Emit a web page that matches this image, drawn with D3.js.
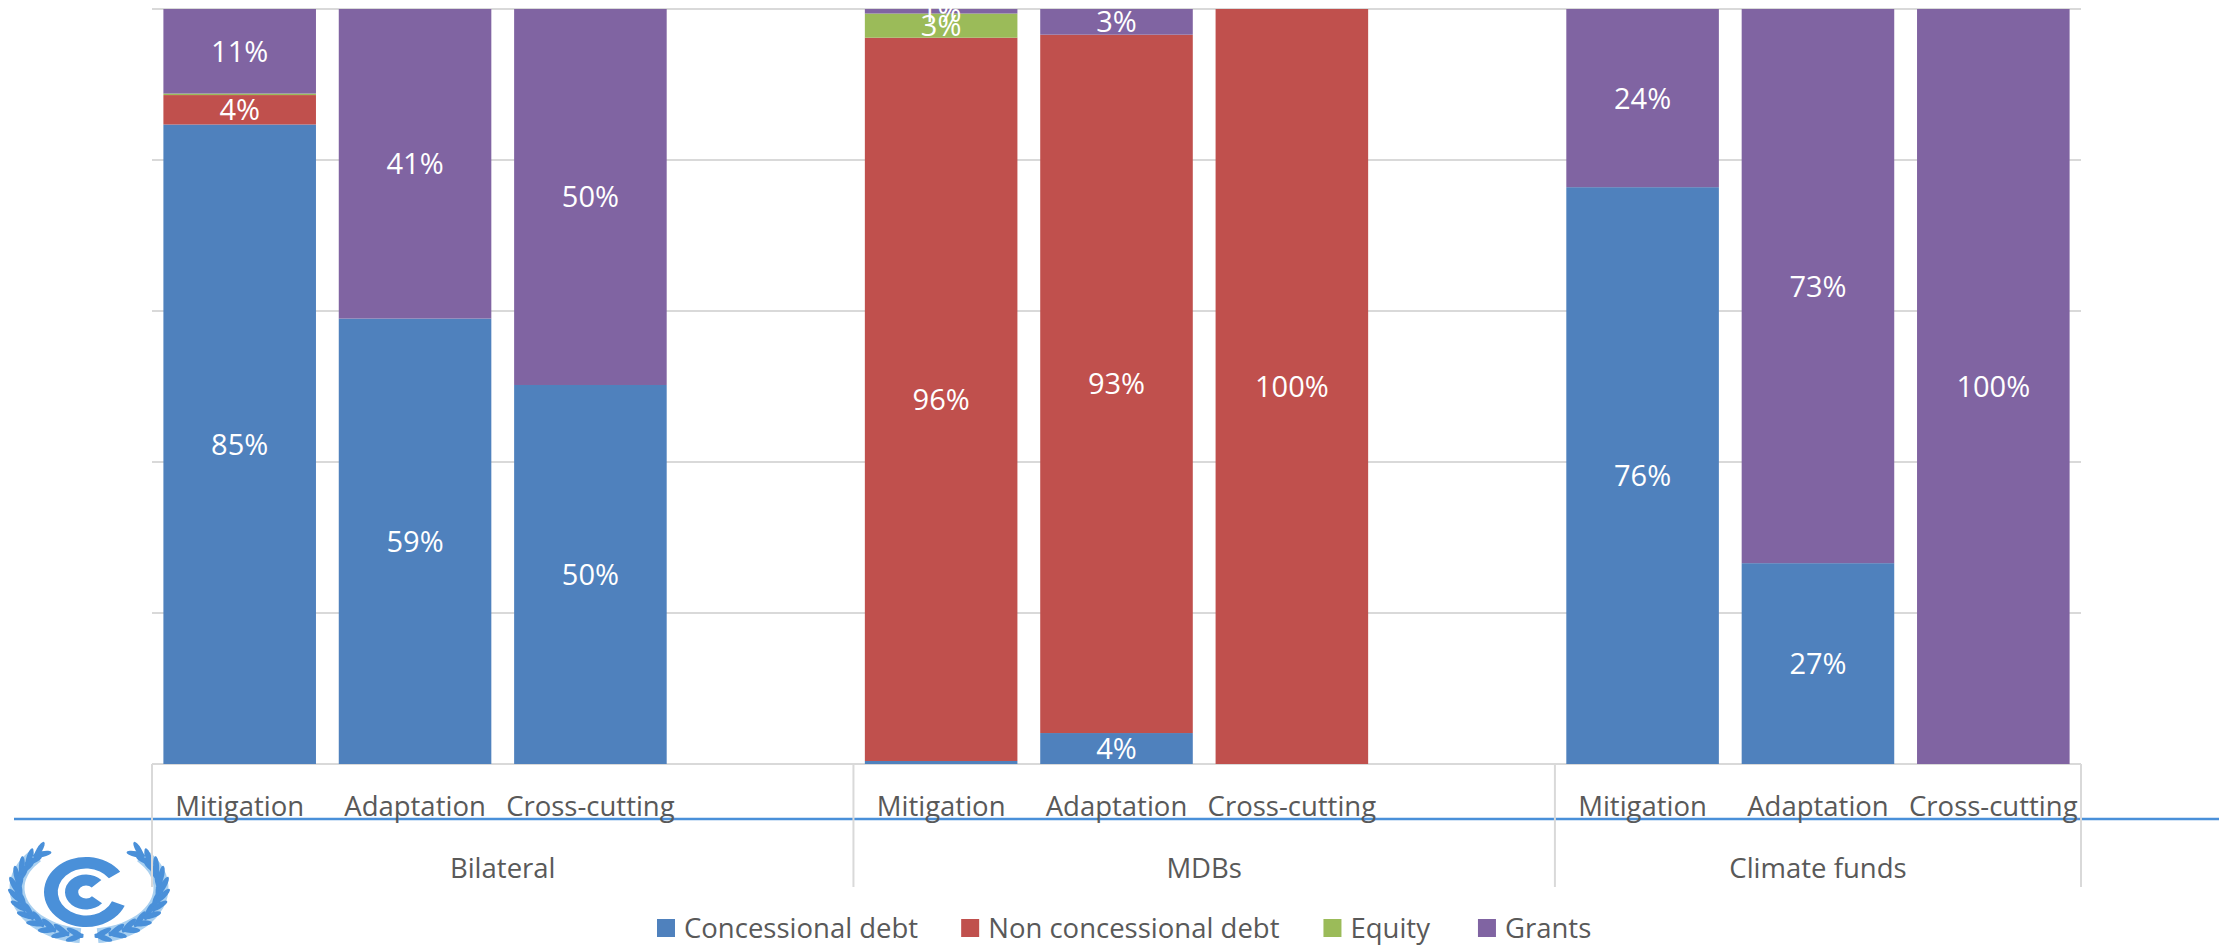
<!DOCTYPE html>
<html>
<head>
<meta charset="utf-8">
<script src="https://cdn.jsdelivr.net/npm/d3@7"></script>
<style>
  html, body { margin: 0; padding: 0; background: #fff; overflow: hidden; }
  svg { display: block; }
  text { font-family: "Open Sans", sans-serif; }
</style>
</head>
<body>
<svg id="chart" width="2223" height="947"></svg>
<script>
// Financing instruments by channel and theme, as percentage shares
const groups = ["Bilateral", "MDBs", "Climate funds"];
const themes = ["Mitigation", "Adaptation", "Cross-cutting"];
const seriesNames = ["Concessional debt", "Non concessional debt", "Equity", "Grants"];
const seriesColors = ["#4f81bd", "#c0504d", "#9bbb59", "#8064a2"];

const concessionalDebt = [84.7, 59, 50.2, 0.4, 4.1, 0, 76.4, 26.6, 0];
const nonConcessionalDebt = [3.9, 0, 0, 95.8, 92.5, 100, 0, 0, 0];
const equity = [0.2, 0, 0, 3.2, 0, 0, 0, 0, 0];
const grants = [11.2, 41, 49.8, 0.6, 3.4, 0, 23.6, 73.4, 100];
const yTicks = [0, 20, 40, 60, 80, 100];

const W = 2223;
const plot = { left: 152, right: 2081, top: 9, bottom: 764 };
const axisDrop = 887;
const labelSize = 27.5;
const valueSize = 29;
const svg = d3.select("#chart");

// One row per bar; empty slots separate the three channels
const rows = [];
groups.forEach((g, gi) => themes.forEach((t, ti) => {
  const i = gi * 3 + ti;
  rows.push({ key: `${g}|${t}`, group: g, theme: t,
    "Concessional debt": concessionalDebt[i],
    "Non concessional debt": nonConcessionalDebt[i],
    "Equity": equity[i],
    "Grants": grants[i] });
}));
const slots = [];
groups.forEach((g, gi) => {
  themes.forEach(t => slots.push(`${g}|${t}`));
  if (gi < groups.length - 1) slots.push(`gap${gi}`);
});

const x = d3.scaleBand().domain(slots).range([plot.left, plot.right]).paddingInner(0.13).paddingOuter(0.065);
const y = d3.scaleLinear().domain([0, 100]).range([plot.bottom, plot.top]);
const color = d3.scaleOrdinal().domain(seriesNames).range(seriesColors);
const stacked = d3.stack().keys(seriesNames)(rows);

svg.append("defs").append("clipPath").attr("id", "labelClip")
  .append("rect").attr("x", 0).attr("y", 7).attr("width", W).attr("height", 940);

// Horizontal gridlines
svg.append("g").selectAll("line").data(yTicks).join("line")
  .attr("x1", plot.left).attr("x2", plot.right)
  .attr("y1", d => y(d)).attr("y2", d => y(d))
  .attr("stroke", "#d9d9d9").attr("stroke-width", 2);

// Stacked bars
svg.append("g").selectAll("g").data(stacked).join("g")
  .attr("fill", d => color(d.key))
  .selectAll("rect").data(d => d).join("rect")
  .attr("x", d => x(d.data.key))
  .attr("width", x.bandwidth())
  .attr("y", d => y(d[1]))
  .attr("height", d => y(d[0]) - y(d[1]));

// Logo, placed beneath the axis rules
const logoBlue = "#4a90d9";
const logo = svg.append("g");
const branch = { cx: 89, cy: 888, rx: 72, ry: 48 };
[-1, 1].forEach(side => {
  const at = t => [branch.cx + side * branch.rx * Math.sin(t), branch.cy + branch.ry * Math.cos(t)];
  const angles = d3.range(0.12, 2.5, 0.2);
  logo.append("path")
    .attr("d", d3.line().curve(d3.curveCatmullRom)(angles.map(at)))
    .attr("fill", "none").attr("stroke", "#a9d0f0").attr("stroke-width", 15);
  angles.forEach(t => {
    const [px, py] = at(t);
    const tangent = Math.atan2(-branch.ry * Math.sin(t), side * branch.rx * Math.cos(t)) * 180 / Math.PI;
    [-24, 24].forEach(tilt => {
      logo.append("ellipse")
        .attr("rx", 9.5).attr("ry", 2.9)
        .attr("transform", `translate(${px},${py}) rotate(${tangent + tilt}) translate(6,0)`)
        .attr("fill", logoBlue);
    });
  });
});
const ring = d3.arc();
[{ inner: 23.5, outer: 35, from: 0.62, to: 0.4 }, { inner: 6.5, outer: 17.5, from: 0.75, to: 0.7 }].forEach(c => {
  logo.append("path")
    .attr("transform", "translate(86,892) scale(1.2,1)")
    .attr("d", ring({ innerRadius: c.inner, outerRadius: c.outer,
      startAngle: Math.PI / 2 + c.to, endAngle: 2.5 * Math.PI - c.from }))
    .attr("fill", logoBlue);
});

// Rule running across the page behind the category labels
svg.append("line").attr("x1", 14).attr("x2", 2219).attr("y1", 819).attr("y2", 819)
  .attr("stroke", "#4a90d9").attr("stroke-width", 2.5);

// Multi-level axis rules: channel dividers sit mid-way through the empty slots
const step = x.step();
const edges = [plot.left, plot.left + 4 * step, plot.left + 8 * step, plot.right];
svg.append("g").selectAll("line").data(edges).join("line")
  .attr("x1", d => d).attr("x2", d => d)
  .attr("y1", plot.bottom).attr("y2", axisDrop)
  .attr("stroke", "#d9d9d9").attr("stroke-width", 2);

// Theme and channel labels
svg.append("g").selectAll("text").data(rows).join("text")
  .attr("x", d => x(d.key) + x.bandwidth() / 2)
  .attr("y", 816)
  .attr("text-anchor", "middle").attr("font-size", labelSize).attr("fill", "#595959")
  .text(d => d.theme);
svg.append("g").selectAll("text").data(groups).join("text")
  .attr("x", (d, i) => (edges[i] + edges[i + 1]) / 2).attr("y", 878)
  .attr("text-anchor", "middle").attr("font-size", labelSize).attr("fill", "#595959")
  .text(d => d);

// Value labels, skipping slivers too thin to carry one
const labelData = stacked.flatMap(s => s.map(d => ({
  key: d.data.key, v: d[1] - d[0], mid: (d[0] + d[1]) / 2
}))).filter(d => d.v >= 0.5);
svg.append("g").attr("clip-path", "url(#labelClip)")
  .selectAll("text").data(labelData).join("text")
  .attr("x", d => x(d.key) + x.bandwidth() / 2)
  .attr("y", d => y(d.mid))
  .attr("dy", "0.36em")
  .attr("text-anchor", "middle").attr("font-size", valueSize).attr("fill", "#fff")
  .text(d => `${Math.round(d.v)}%`);

// Legend, laid out left to right
const legendGaps = [43, 44, 48, 0];
const legend = svg.append("g");
const items = legend.selectAll("g").data(seriesNames).join("g");
items.append("rect").attr("width", 18).attr("height", 18).attr("y", -9).attr("fill", d => color(d));
items.append("text").attr("x", 27).attr("dy", "0.36em").attr("font-size", labelSize).attr("fill", "#595959").text(d => d);
let cursor = 657;
items.attr("transform", function (d, i) {
  const t = `translate(${cursor},928)`;
  cursor += 27 + this.querySelector("text").getComputedTextLength() + legendGaps[i];
  return t;
});
</script>
</body>
</html>
